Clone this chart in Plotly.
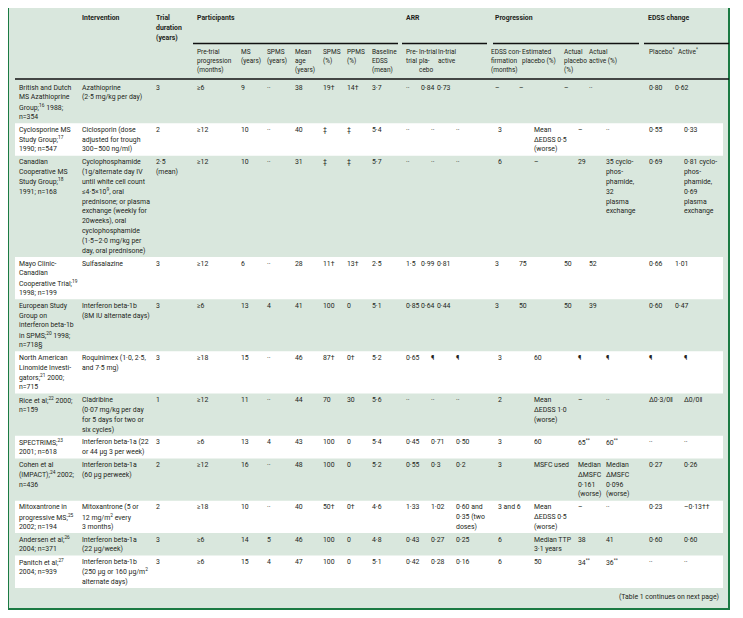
import plotly.graph_objects as go

# ---------------- data ----------------
studies = [
    "British and Dutch<br>MS Azathioprine<br>Group;<sup>16</sup> 1988;<br>n=354",
    "Cyclosporine MS<br>Study Group;<sup>17</sup><br>1990; n=547",
    "Canadian<br>Cooperative MS<br>Study Group;<sup>18</sup><br>1991; n=168",
    "Mayo Clinic-<br>Canadian<br>Cooperative Trial;<sup>19</sup><br>1998; n=199",
    "European Study<br>Group on<br>interferon beta-1b<br>in SPMS;<sup>20</sup> 1998;<br>n=718§",
    "North American<br>Linomide Investi-<br>gators;<sup>21</sup> 2000;<br>n=715",
    "Rice et al;<sup>22</sup> 2000;<br>n=159",
    "SPECTRIMS;<sup>23</sup><br>2001; n=618",
    "Cohen et al<br>(IMPACT);<sup>24</sup> 2002;<br>n=436",
    "Mitoxantrone in<br>progressive MS;<sup>25</sup><br>2002; n=194",
    "Andersen et al;<sup>26</sup><br>2004; n=371",
    "Panitch et al;<sup>27</sup><br>2004; n=939",
]
interventions = [
    "Azathioprine<br>(2·5 mg/kg per day)",
    "Ciclosporin (dose<br>adjusted for trough<br>300–500 ng/ml)",
    "Cyclophosphamide<br>(1g/alternate day IV<br>until white cell count<br>≤4·5×10<sup>9</sup>, oral<br>prednisone; or plasma<br>exchange (weekly for<br>20weeks), oral<br>cyclophosphamide<br>(1·5–2·0 mg/kg per<br>day, oral prednisone)",
    "Sulfasalazine",
    "Interferon beta-1b<br>(8M IU alternate days)",
    "Roquinimex (1·0, 2·5,<br>and 7·5 mg)",
    "Cladribine<br>(0·07 mg/kg per day<br>for 5 days for two or<br>six cycles)",
    "Interferon beta-1a (22<br>or 44 μg 3 per week)",
    "Interferon beta-1a<br>(60 μg perweek)",
    "Mitoxantrone (5 or<br>12 mg/m<sup>2</sup> every<br>3 months)",
    "Interferon beta-1a<br>(22 μg/week)",
    "Interferon beta-1b<br>(250 μg or 160 μg/m<sup>2</sup><br>alternate days)",
]
trial_duration = ["3", "2", "2·5<br>(mean)", "3", "3", "3", "1", "3", "2", "2", "3", "3"]
pretrial_progression = ["≥6", "≥12", "≥12", "≥12", "≥6", "≥18", "≥12", "≥6", "≥12", "≥18", "≥6", "≥6"]
ms_years = ["9", "10", "10", "6", "13", "15", "11", "13", "16", "10", "14", "15"]
spms_years = ["··", "··", "··", "··", "4", "··", "··", "4", "··", "··", "5", "4"]
mean_age = ["38", "40", "31", "28", "41", "46", "44", "43", "48", "40", "46", "47"]
spms_pct = ["19†", "‡", "‡", "11†", "100", "87†", "70", "100", "100", "50†", "100", "100"]
ppms_pct = ["14†", "‡", "‡", "13†", "0", "0†", "30", "0", "0", "0†", "0", "0"]
baseline_edss = ["3·7", "5·4", "5·7", "2·5", "5·1", "5·2", "5·6", "5·4", "5·2", "4·6", "4·8", "5·1"]
arr_pretrial = ["··", "··", "··", "1·5", "0·85", "0·65", "··", "0·45", "0·55", "1·33", "0·43", "0·42"]
arr_placebo = ["0·84", "··", "··", "0·99", "0·64", "¶", "··", "0·71", "0·3", "1·02", "0·27", "0·28"]
arr_active = ["0·73", "··", "··", "0·81", "0·44", "¶", "··", "0·50", "0·2",
              "0·60 and<br>0·35 (two<br>doses)", "0·25", "0·16"]
edss_confirmation = ["–", "3", "6", "3", "3", "3", "2", "3", "3", "3 and 6", "6", "6"]
estimated_placebo = ["–", "Mean<br>ΔEDSS 0·5<br>(worse)", "–", "75", "50", "60",
                     "Mean<br>ΔEDSS 1·0<br>(worse)", "60", "MSFC used",
                     "Mean<br>ΔEDSS 0·5<br>(worse)", "Median TTP<br>3·1 years", "50"]
actual_placebo = ["–", "–", "29", "50", "50", "¶", "–", "65<sup>**</sup>",
                  "Median<br>ΔMSFC<br>0·161<br>(worse)", "–", "38", "34<sup>**</sup>"]
actual_active = ["··", "··", "35 cyclo-<br>phos-<br>phamide,<br>32<br>plasma<br>exchange", "52", "39", "¶",
                 "··", "60<sup>**</sup>", "Median<br>ΔMSFC<br>0·096<br>(worse)", "··", "41", "36<sup>**</sup>"]
edss_placebo = ["0·80", "0·55", "0·69", "0·66", "0·60", "¶", "Δ0·3/0‖", "··", "0·27", "0·23", "0·60", "··"]
edss_active = ["0·62", "0·33", "0·81 cyclo-<br>phos-<br>phamide,<br>0·69<br>plasma<br>exchange", "1·01", "0·47", "¶",
               "Δ0/0‖", "··", "0·26", "–0·13††", "0·60", "··"]

group_headers = ["", "Intervention", "Trial<br>duration<br>(years)", "Participants",
                 "ARR", "Progression", "EDSS change"]
sub_headers = ["Pre-trial<br>progression<br>(months)", "MS<br>(years)", "SPMS<br>(years)", "Mean<br>age<br>(years)",
               "SPMS<br>(%)", "PPMS<br>(%)", "Baseline<br>EDSS<br>(mean)", "Pre-<br>trial", "In-trial<br>pla-<br>cebo",
               "In-trial<br>active", "EDSS con-<br>firmation<br>(months)", "Estimated<br>placebo (%)",
               "Actual<br>placebo<br>(%)", "Actual<br>active (%)", "Placebo<sup>*</sup>", "Active<sup>*</sup>"]
footer_note = "(Table 1 continues on next page)"

columns = [studies, interventions, trial_duration, pretrial_progression, ms_years, spms_years, mean_age,
           spms_pct, ppms_pct, baseline_edss, arr_pretrial, arr_placebo, arr_active, edss_confirmation,
           estimated_placebo, actual_placebo, actual_active, edss_placebo, edss_active]

# ---------------- layout (positions / styles) ----------------
VW, VH = 743, 618          # browser viewport
OFF = 8                    # default page body margin
FONT = "Roboto, Liberation Sans, Arial, sans-serif"
FS = 6.9
FS_SUB = 6.5
TXT = "#231f20"
BG = "#d9e7dd"
FRAME = "#1b7a43"

COLX_LEFT = [18, 81, 155, 196, 240, 266, 294, 322, 346, 371]
COLX_A = [405, 420, 436, 494, 518, 563, 588, 648, 674]
COLX_B = [405, 430, 455, 497, 533, 577, 605, 648, 683]
row_layout = ["A", "B", "B", "A", "A", "B", "B", "B", "B", "B", "B", "B"]
SUB_X = [196, 240, 266, 294, 322, 346, 371, 405, 418, 437, 490, 521, 563, 588, 648, 677]
GROUP_X = [18, 81, 155, 196, 405, 494, 647]
GROUP_LINES = [(193, 398), (402, 487), (493, 639), (644, 729)]

ROW_TOP0 = 81
LH = 9.85
ROW_PAD = 12.7
FIRST_OFF = 6.5

shapes = []
annotations = []

def add_text(x, y, text, anchor="left", bold=False, size=FS):
    if bold:
        text = "<b>" + text + "</b>"
    annotations.append(dict(x=x, y=y, xref="x", yref="y", text=text, showarrow=False,
                            xanchor=anchor, yanchor="middle", align=anchor,
                            font=dict(family=FONT, size=size, color=TXT), borderpad=0))

def add_cell(x, y0, text, lh, bold=False, size=FS):
    for i, line in enumerate(text.split("<br>")):
        add_text(x, y0 + i * lh, line, bold=bold, size=size)

# frame background
shapes.append(dict(type="rect", xref="x", yref="y", x0=8, x1=729, y0=7, y1=609,
                   fillcolor=BG, line=dict(color=FRAME, width=2), layer="below"))

# header
for gx, gt in zip(GROUP_X, group_headers):
    if gt:
        add_cell(gx, 18.3, gt, 9.7, bold=True)
for (a, b) in GROUP_LINES:
    shapes.append(dict(type="line", xref="x", yref="y", x0=a, x1=b, y0=43.5, y1=43.5,
                       line=dict(color="#111111", width=1.3)))
for sx, st in zip(SUB_X, sub_headers):
    add_cell(sx, 51.7, st, 8.9, size=FS_SUB)
shapes.append(dict(type="line", xref="x", yref="y", x0=15, x1=729, y0=79, y1=79,
                   line=dict(color="#111111", width=1.5)))

# body rows
top = ROW_TOP0
for r in range(len(studies)):
    cells = [col[r] for col in columns]
    nlines = max(len(c.split("<br>")) for c in cells)
    h = ROW_PAD + LH * (nlines - 1)
    if r % 2 == 1:
        shapes.append(dict(type="rect", xref="x", yref="y", x0=15, x1=723, y0=top, y1=top + h,
                           fillcolor="white", line=dict(width=0), layer="below"))
    xs = COLX_LEFT + (COLX_A if row_layout[r] == "A" else COLX_B)
    for cx, c in zip(xs, cells):
        add_cell(cx, top + FIRST_OFF, c, LH)
    top += h

# footer
add_text(720, top + 9, footer_note, anchor="right")

fig = go.Figure()
fig.add_trace(go.Scatter(x=[OFF, VW], y=[OFF, VH], mode="markers", marker=dict(opacity=0),
                         hoverinfo="skip", showlegend=False))
fig.update_layout(width=VW - OFF, height=VH - OFF, margin=dict(l=0, r=0, t=0, b=0),
                  paper_bgcolor="white", plot_bgcolor="white",
                  xaxis=dict(range=[OFF, VW], visible=False, fixedrange=True),
                  yaxis=dict(range=[VH, OFF], visible=False, fixedrange=True),
                  shapes=shapes, annotations=annotations, showlegend=False)
fig.write_html("out.html")
